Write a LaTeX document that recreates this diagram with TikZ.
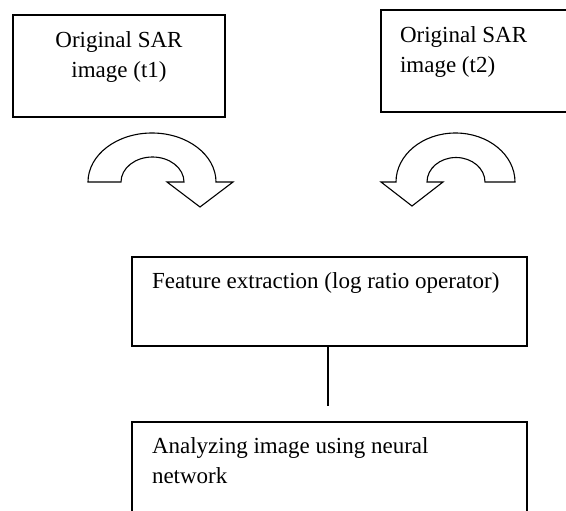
\documentclass[tikz,border=0pt]{standalone}
\usepackage{fontspec}
\setmainfont{Liberation Serif}
\begin{document}
\begin{tikzpicture}[x=1pt,y=-1pt,
  box/.style={draw=black,line width=1.4pt,fill=none,rectangle,anchor=north west,inner sep=0pt,outer sep=0pt},
  lbl/.style={inner sep=0pt,outer sep=0pt,font=\fontsize{23}{30}\selectfont},
  uturn/.style={draw=black,line width=1.1pt,fill=white,line join=miter},
  link/.style={draw=black,line width=1.8pt}]
\useasboundingbox (0,0) rectangle (566,511);
\clip (0,0) rectangle (566,511);
% boxes
\node[box,minimum width=212pt,minimum height=102pt] (b1) at (13,15) {};
\node[box,minimum width=200pt,minimum height=102pt] (b2) at (381,10) {};
\node[box,minimum width=395pt,minimum height=89pt] (b3) at (132,257) {};
\node[box,minimum width=395pt,minimum height=110pt] (b4) at (132,422) {};
% texts
\node[lbl,anchor=base] (t1) at (119,48) {\parbox[t]{200pt}{\centering Original SAR\\image (t1)}};
\node[lbl,anchor=base west] (t2) at (400,43) {\parbox[t]{160pt}{Original SAR\\image (t2)}};
\node[lbl,anchor=base west] (t3) at (152,288) {Feature extraction (log ratio operator)};
\node[lbl,anchor=base west] (t4) at (152,453) {\parbox[t]{370pt}{Analyzing image using neural\\network}};
% curved arrows
\path[uturn] (88,182) arc[start angle=180,end angle=360,x radius=64,y radius=49]
  -- (233,182) -- (200,207) -- (167,182) -- (184,182)
  arc[start angle=0,end angle=-180,x radius=31.5,y radius=25] -- cycle;
\path[uturn] (515,182) arc[start angle=0,end angle=-180,x radius=59.5,y radius=49]
  -- (381,182) -- (412,206) -- (443,182) -- (427,182)
  arc[start angle=180,end angle=360,x radius=29,y radius=24.5] -- cycle;
% connector
\coordinate (lend) at (328,406);
\draw[link] (b3.south -| lend) -- (lend);
\end{tikzpicture}
\end{document}
